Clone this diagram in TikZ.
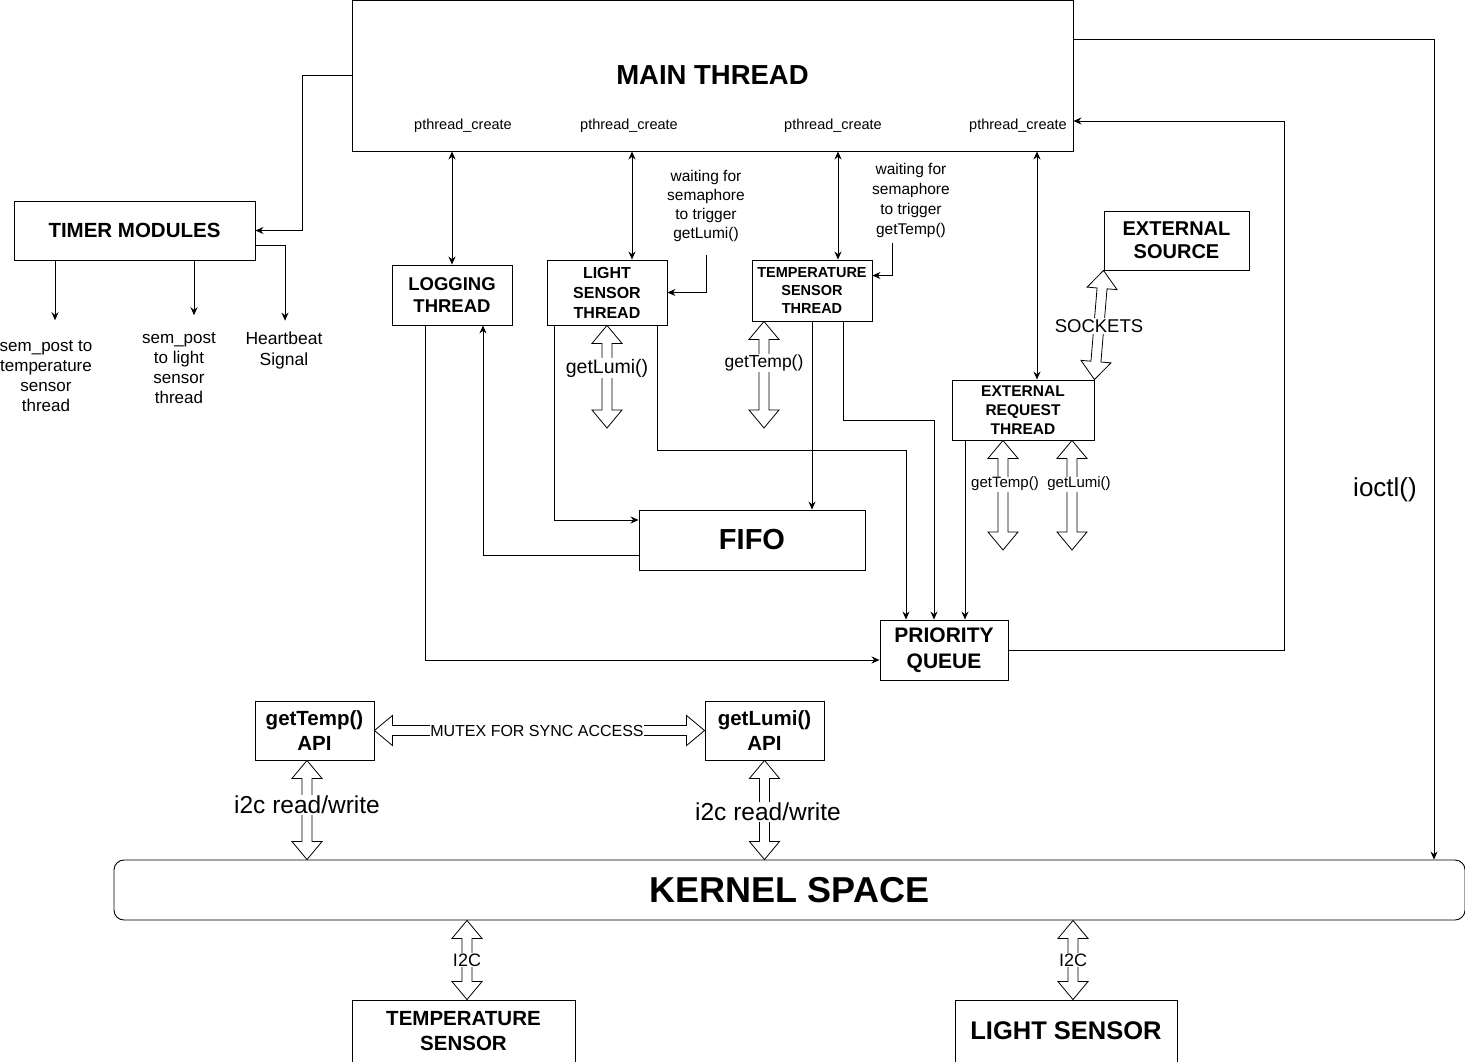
\documentclass[tikz,border=0pt]{standalone}
\usepackage{fontspec}
\setmainfont{Liberation Sans}
\usetikzlibrary{arrows.meta,calc}
\newcommand{\FatHead}{18pt}
\newcommand{\FatWing}{15pt}
\newcommand{\FatShaft}{5pt}
\newcommand{\FS}[2]{\fontsize{#1}{#2}\selectfont}
\newcommand{\FatArrow}[2]{%
  % #1 first tip, #2 second tip (hollow double-headed arrow)
  \coordinate (fa-a) at (#1);
  \coordinate (fa-b) at (#2);
  \coordinate (fa-h) at ($(fa-a)!\FatHead!(fa-b)$);
  \coordinate (fa-k) at ($(fa-b)!\FatHead!(fa-a)$);
  \draw[fatarrow] (fa-a) -- ($(fa-h)!\FatWing!90:(fa-b)$) -- ($(fa-h)!\FatShaft!90:(fa-b)$)
    -- ($(fa-k)!\FatShaft!-90:(fa-a)$) -- ($(fa-k)!\FatWing!-90:(fa-a)$) -- (fa-b)
    -- ($(fa-k)!\FatWing!90:(fa-a)$) -- ($(fa-k)!\FatShaft!90:(fa-a)$)
    -- ($(fa-h)!\FatShaft!-90:(fa-b)$) -- ($(fa-h)!\FatWing!-90:(fa-b)$) -- cycle;
}

\begin{document}
\begin{tikzpicture}[x=1pt,y=-1pt,
  >={Stealth[length=8pt,width=7pt]},
  box/.style={draw,line width=0.9pt,inner sep=0pt,align=center},
  note/.style={inner sep=0pt,align=center},
  wire/.style={line width=0.9pt,->},
  dwire/.style={line width=0.9pt,<->},
  fatarrow/.style={draw,line width=0.8pt,fill=white,line join=miter},
  fatlabel/.style={fill=white,inner sep=1pt}
]
\useasboundingbox (0,0) rectangle (1465,1061);

% Boxes
\node[box,minimum width=721pt,minimum height=151pt,font=\FS{27.5}{32}\bfseries] (main) at (712.5,75.5) {MAIN THREAD};
\node[box,minimum width=241pt,minimum height=59pt,font=\FS{20.5}{24}\bfseries] (timer) at (134.5,230.5) {TIMER MODULES};
\node[box,minimum width=120pt,minimum height=60pt,font=\FS{18.5}{22}\bfseries] (logging) at (452,295) {LOGGING\\THREAD};
\node[box,minimum width=120pt,minimum height=65pt,font=\FS{16}{20}\bfseries] (light) at (607,292.5) {LIGHT\\SENSOR\\THREAD};
\node[box,minimum width=120pt,minimum height=61pt,font=\FS{14.5}{18}\bfseries] (temp) at (812,290.5) {TEMPERATURE\\SENSOR\\THREAD};
\node[box,minimum width=145pt,minimum height=59pt,font=\FS{20}{23}\bfseries] (extsrc) at (1176.5,240.5) {EXTERNAL\\SOURCE};
\node[box,minimum width=142pt,minimum height=60pt,font=\FS{15.5}{19}\bfseries] (extreq) at (1023,410) {EXTERNAL\\REQUEST\\THREAD};
\node[box,minimum width=226pt,minimum height=60pt,font=\FS{29}{34}\bfseries] (fifo) at (752,540) {FIFO};
\node[box,minimum width=128pt,minimum height=60pt,font=\FS{21}{26}\bfseries] (pq) at (944,650) {PRIORITY\\QUEUE};
\node[box,minimum width=119pt,minimum height=59pt,font=\FS{20.5}{25}\bfseries] (tapi) at (314.5,730.5) {getTemp()\\API};
\node[box,minimum width=119pt,minimum height=59pt,font=\FS{20.5}{25}\bfseries] (lapi) at (764.5,730.5) {getLumi()\\API};
\node[box,rounded corners=10pt,minimum width=1351pt,minimum height=60pt,font=\FS{36}{40}\bfseries] (kernel) at (789.5,890) {KERNEL SPACE};
\node[box,minimum width=223pt,minimum height=62pt,font=\FS{20.5}{25}\bfseries] (tsens) at (463.5,1031) {TEMPERATURE\\SENSOR};
\node[box,minimum width=222pt,minimum height=62pt,font=\FS{25.5}{30}\bfseries] (lsens) at (1066,1031) {LIGHT SENSOR};

% Texts
\foreach \n/\x in {pc1/463,pc2/629,pc3/833,pc4/1018}
  \node[note,font=\FS{14.5}{17}] (\n) at (\x,126) {pthread\_create};
\node[note,font=\FS{17}{20}] (semtemp) at (46,376) {sem\_post to\\temperature\\sensor\\thread};
\node[note,font=\FS{17}{20}] (semlight) at (179,368) {sem\_post\\to light\\sensor\\thread};
\node[note,font=\FS{17.5}{21}] (heart) at (284,350.5) {Heartbeat\\Signal};
\node[note,font=\FS{15.5}{19}] (waitlumi) at (706,205.5) {waiting for\\semaphore\\to trigger\\getLumi()};
\node[note,font=\FS{15.5}{20}] (waittemp) at (911,200) {waiting for\\semaphore\\to trigger\\getTemp()};
\node[note,font=\FS{26}{30}] (ioctl) at (1385,490) {ioctl()};

% Timer connections
\draw[wire] (main.west) -- ++(-49,0) |- (timer.east);
\draw[wire,shorten >=20pt] ([xshift=-79.5pt]timer.south) -- ([xshift=-79.5pt]timer.south |- semtemp.north);
\draw[wire,shorten >=17pt] ([xshift=59.5pt]timer.south) -- ([xshift=59.5pt]timer.south |- semlight.north);
\draw[wire,shorten >=11pt] ([yshift=-14.5pt]timer.east) -| ([xshift=1pt]heart.north);

% pthread_create links
\draw[dwire] (logging.north |- main.south) -- (logging.north);
\draw[dwire] ([xshift=25pt]light.north |- main.south) -- ([xshift=25pt]light.north);
\draw[dwire] ([xshift=26pt]temp.north |- main.south) -- ([xshift=26pt]temp.north);
\draw[dwire] ([xshift=14pt]extreq.north |- main.south) -- ([xshift=14pt]extreq.north);

% Semaphore triggers
\draw[wire] ([yshift=-13.5pt]waitlumi.south) |- (light.east);
\draw[wire] ([xshift=-19pt,yshift=-5.5pt]waittemp.south) |- ([yshift=15pt]temp.east);

% Data flow
\draw[wire] ([xshift=-27pt]logging.south) |- ([yshift=-10pt]pq.west);
\draw[wire] ([yshift=-15pt]fifo.west) -| ([xshift=31pt]logging.south);
\draw[wire] ([xshift=-53pt]light.south) |- ([yshift=20pt]fifo.west);
\draw[wire] ([xshift=50pt]light.south) -- ++(0,125) -| ([xshift=-38pt]pq.north);
\draw[wire] (temp.south) -- (temp.south |- fifo.north);
\draw[wire] ([xshift=31pt]temp.south) -- ++(0,99) -| ([xshift=-10pt]pq.north);
\draw[wire] ([xshift=-58pt]extreq.south) -- ([xshift=-58pt]extreq.south |- pq.north);
\draw[wire] (pq.east) -- ++(276,0) |- ([yshift=-45.5pt]main.east);
\draw[wire] ([yshift=36.5pt]main.east) -| ([xshift=644.5pt]kernel.north);

% Hollow arrows
\coordinate (lumiend) at (607,428);
\FatArrow{light.south}{lumiend}
\node[fatlabel,font=\FS{19.5}{22}] (lumilbl) at (607,368) {getLumi()};
\coordinate (tempend) at (764,428);
\FatArrow{[xshift=-48pt]temp.south}{tempend}
\node[fatlabel,font=\FS{17.5}{20}] (templbl) at (764,363) {getTemp()};
\FatArrow{extsrc.south west}{extreq.north east}
\node[fatlabel,font=\FS{18.5}{22}] (socklbl) at (1099,326) {SOCKETS};
\coordinate (xtempend) at (1003,550);
\FatArrow{[xshift=-20pt]extreq.south}{xtempend}
\node[fatlabel,inner sep=0.5pt,font=\FS{15}{18}] (xtemplbl) at (1005,484) {getTemp()};
\coordinate (xlumiend) at (1072,550);
\FatArrow{[xshift=49pt]extreq.south}{xlumiend}
\node[fatlabel,inner sep=0.5pt,font=\FS{15}{18}] (xlumilbl) at (1079,484) {getLumi()};
\FatArrow{tapi.east}{lapi.west}
\node[fatlabel,inner sep=0pt,font=\FS{16}{19}] (mutexlbl) at (537,731) {MUTEX FOR SYNC ACCESS};
\FatArrow{[xshift=-7.5pt]tapi.south}{[xshift=-7.5pt]tapi.south |- kernel.north}
\node[fatlabel,font=\FS{24.5}{28}] (ti2c) at (307,805) {i2c read/write};
\FatArrow{lapi.south}{lapi.south |- kernel.north}
\node[fatlabel,font=\FS{24.5}{28}] (li2c) at (768,812) {i2c read/write};
\FatArrow{[xshift=3.5pt]tsens.north |- kernel.south}{[xshift=3.5pt]tsens.north}
\node[fatlabel,font=\FS{18}{21}] (ti2cbus) at (467,960) {I2C};
\FatArrow{[xshift=7pt]lsens.north |- kernel.south}{[xshift=7pt]lsens.north}
\node[fatlabel,font=\FS{18}{21}] (li2cbus) at (1073,960) {I2C};

\end{tikzpicture}
\end{document}
